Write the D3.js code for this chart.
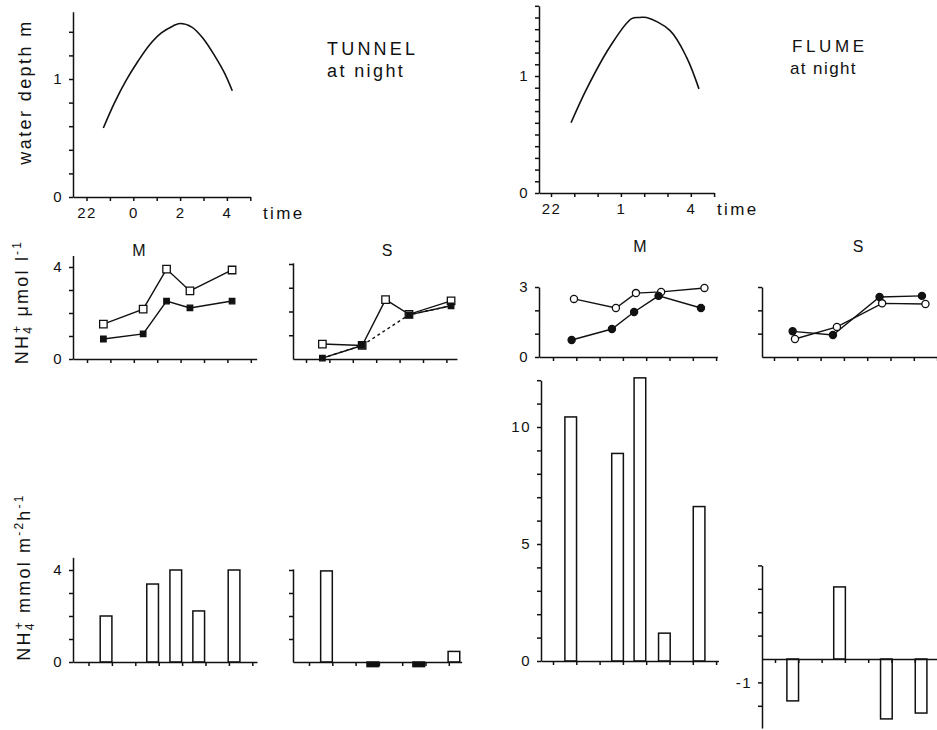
<!DOCTYPE html>
<html>
<head>
<meta charset="utf-8">
<script src="https://cdn.jsdelivr.net/npm/d3@7"></script>
<style>
  body { margin: 0; background: #fff; }
  svg { display: block; }
  text { font-family: "Liberation Sans", Arial, sans-serif; fill: #111; }
</style>
</head>
<body>
<svg id="chart" width="937" height="730"></svg>
<script>
// ---- values (time in hours, 24 = midnight) ----
const tunnelDepthTime = [22.72, 23.2, 23.7, 24.2, 24.7, 25.2, 25.7, 26.0, 26.5, 27.0, 27.5, 27.9, 28.23];
const tunnelDepth     = [0.585, 0.80, 0.99, 1.15, 1.29, 1.39, 1.45, 1.47, 1.44, 1.34, 1.19, 1.05, 0.90];
const flumeDepthTime  = [22.86, 23.53, 24.53, 25.46, 25.82, 26.1, 27.1, 27.82, 28.35];
const flumeDepth      = [0.60, 0.89, 1.25, 1.49, 1.50, 1.50, 1.39, 1.16, 0.89];

// NH4+ concentration, umol l-1
const tunnelSampleTime = [22.7, 24.4, 25.4, 26.4, 28.2];
const tunnelMOpen = [1.52, 2.17, 3.91, 2.96, 3.87];
const tunnelMFill = [0.87, 1.09, 2.52, 2.22, 2.52];
const tunnelSOpen = [0.63, 0.57, 2.5, 1.88, 2.45];
const tunnelSFill = [0.04, 0.57, null, 1.86, 2.24];

const flumeFillTime = [22.8, 24.53, 25.48, 26.53, 28.35];
const flumeOpenTime = [22.9, 24.7, 25.56, 26.64, 28.5];
const flumeMFill = [0.73, 1.2, 1.93, 2.62, 2.1];
const flumeMOpen = [2.49, 2.1, 2.74, 2.79, 2.96];
const flumeSFill = [1.1, 0.94, null, 2.57, 2.62];
const flumeSOpen = [0.77, 1.29, null, 2.3, 2.27];

// NH4+ flux, mmol m-2 h-1
const tunnelFluxTime = [22.75, 24.74, 25.73, 26.71, 28.22];
const tunnelMFlux = [2.0, 3.39, 4.0, 2.22, 4.0];
const tunnelSFlux = [3.96, -0.2, null, -0.2, 0.46];
const flumeFluxTime = [22.76, 24.77, 25.73, 26.78, 28.27];
const flumeMFlux = [10.43, 8.87, 12.1, 1.19, 6.6];
const flumeSFlux = [-1.79, 3.08, null, -2.56, -2.31];

// tick labels
const hourTicks = [22, 23, 24, 25, 26, 27, 28, 29];
const tunnelHourLabelAt = [22, 24, 26, 28];
const tunnelHourLabels = ["22", "0", "2", "4"];
const flumeHourLabelAt = [22, 25, 28];
const flumeHourLabels = ["22", "1", "4"];

const INK = "#111";
const svg = d3.select("#chart");

// builds one small panel: scales + axes, returns scales and group
function panel(c) {
  const g = svg.append("g");
  const tStart = 22 - (c.x22 - c.x0) / c.pxh;
  const x = d3.scaleLinear()
    .domain([tStart, c.tEnd])
    .range([c.x0, c.x22 + (c.tEnd - 22) * c.pxh]);
  const yMin = c.yMin || 0;
  const y = d3.scaleLinear()
    .domain([yMin, c.yMax])
    .range([c.yZero - yMin * c.pxu, c.yZero - c.yMax * c.pxu]);

  const xLab = c.xLabelAt || [];
  const xAxis = d3.axisBottom(x)
    .tickValues(c.xTicks.filter(t => t <= c.tEnd))
    .tickSizeInner(4).tickSizeOuter(0).tickPadding(6)
    .tickFormat(t => { const i = xLab.indexOf(t); return i < 0 ? "" : c.xLabels[i]; });
  const yAxis = d3.axisLeft(y)
    .tickValues(c.yTicks)
    .tickSizeInner(4).tickSizeOuter(0).tickPadding(6)
    .tickFormat(v => (c.yLabels || []).some(l => Math.abs(l - v) < 1e-6) ? String(v) : "");

  c.draw && c.draw(g, x, y);

  [g.append("g").attr("transform", `translate(0,${y(0)})`).call(xAxis),
   g.append("g").attr("transform", `translate(${c.x0},0)`).call(yAxis)]
    .forEach(a => {
      a.attr("font-family", null).attr("font-size", null);
      a.selectAll("path, line").attr("stroke", INK).attr("stroke-width", 1.5);
      a.selectAll("text").attr("fill", INK)
        .style("font-size", "15px").style("letter-spacing", "1.5px");
    });
  return { g, x, y };
}

function depthCurve(times, depths) {
  return (g, x, y) => {
    g.append("path")
      .datum(times.map((t, i) => [t, depths[i]]))
      .attr("fill", "none").attr("stroke", INK).attr("stroke-width", 1.6)
      .attr("d", d3.line().x(d => x(d[0])).y(d => y(d[1])).curve(d3.curveCatmullRom));
  };
}

// series: {time, values, shape: "square"|"circle", filled, gapDash}
function lineSeries(series) {
  return (g, x, y) => {
    const line = d3.line().x(d => x(d[0])).y(d => y(d[1]));
    series.forEach(s => {
      const pts = s.time.map((t, i) => [t, s.values[i]]);
      const known = pts.filter(d => d[1] != null);
      if (s.gapDash) {
        g.append("path").datum(known)
          .attr("fill", "none").attr("stroke", INK).attr("stroke-width", 1.4)
          .attr("stroke-dasharray", "3,3").attr("d", line);
        g.append("path").datum(pts)
          .attr("fill", "none").attr("stroke", INK).attr("stroke-width", 1.4)
          .attr("d", d3.line().x(d => x(d[0])).y(d => y(d[1])).defined(d => d[1] != null));
      } else {
        g.append("path").datum(known)
          .attr("fill", "none").attr("stroke", INK).attr("stroke-width", 1.4)
          .attr("d", line);
      }
    });
    series.forEach(s => {
      const known = s.time.map((t, i) => [t, s.values[i]]).filter(d => d[1] != null);
      const sym = s.shape === "square"
        ? d3.symbol(d3.symbolSquare, s.filled ? 30 : 56)
        : d3.symbol(d3.symbolCircle, 40);
      g.selectAll(null).data(known).join("path")
        .attr("transform", d => `translate(${x(d[0])},${y(d[1])})`)
        .attr("d", sym)
        .attr("fill", s.filled ? INK : "#fff")
        .attr("stroke", INK).attr("stroke-width", 1.3);
    });
  };
}

function bars(times, values, pxh) {
  return (g, x, y) => {
    const data = times.map((t, i) => [t, values[i]]).filter(d => d[1] != null);
    const w = pxh * 0.5;
    g.selectAll(null).data(data).join("rect")
      .attr("x", d => x(d[0]) - w / 2)
      .attr("width", w)
      .attr("y", d => Math.min(y(d[1]), y(0)))
      .attr("height", d => Math.abs(y(d[1]) - y(0)))
      .attr("fill", d => Math.abs(d[1]) < 0.3 ? INK : "#fff")
      .attr("stroke", INK).attr("stroke-width", 1.5);
  };
}

const tenths = n => d3.range(0, n + 1).map(i => +(i / 10).toFixed(1));

// ---- top row: water depth ----
panel({ x0: 73, x22: 86.5, pxh: 23.4, tEnd: 29, yZero: 197, pxu: 118, yMax: 1.57,
  xTicks: hourTicks, xLabelAt: tunnelHourLabelAt, xLabels: tunnelHourLabels,
  yTicks: tenths(14).filter((v, i) => i % 2 === 0), yLabels: [0, 1],
  draw: depthCurve(tunnelDepthTime, tunnelDepth) });
panel({ x0: 539, x22: 551, pxh: 23.3, tEnd: 29, yZero: 193, pxu: 117, yMax: 1.6,
  xTicks: hourTicks, xLabelAt: flumeHourLabelAt, xLabels: flumeHourLabels,
  yTicks: tenths(16), yLabels: [0, 1],
  draw: depthCurve(flumeDepthTime, flumeDepth) });

// ---- middle row: concentration ----
panel({ x0: 73, x22: 87, pxh: 23.4, tEnd: 29.25, yZero: 359, pxu: 23, yMax: 4.5,
  xTicks: hourTicks, yTicks: [0, 1, 2, 3, 4], yLabels: [0, 4],
  draw: lineSeries([
    { time: tunnelSampleTime, values: tunnelMOpen, shape: "square", filled: false },
    { time: tunnelSampleTime, values: tunnelMFill, shape: "square", filled: true }]) });
panel({ x0: 293, x22: 306, pxh: 23.4, tEnd: 28.45, yZero: 359, pxu: 23.75, yMax: 4.05,
  xTicks: hourTicks, yTicks: [1, 2, 3, 4],
  draw: lineSeries([
    { time: tunnelSampleTime, values: tunnelSOpen, shape: "square", filled: false },
    { time: tunnelSampleTime, values: tunnelSFill, shape: "square", filled: true, gapDash: true }]) });
panel({ x0: 539, x22: 553, pxh: 23.3, tEnd: 29.05, yZero: 357, pxu: 23.33, yMax: 3,
  xTicks: hourTicks, yTicks: [0, 1, 2, 3], yLabels: [0, 3],
  draw: lineSeries([
    { time: flumeOpenTime, values: flumeMOpen, shape: "circle", filled: false },
    { time: flumeFillTime, values: flumeMFill, shape: "circle", filled: true }]) });
panel({ x0: 762, x22: 774, pxh: 23.3, tEnd: 29.0, yZero: 357, pxu: 23.33, yMax: 3,
  xTicks: hourTicks, yTicks: [1, 2, 3],
  draw: lineSeries([
    { time: flumeFillTime, values: flumeSFill, shape: "circle", filled: true },
    { time: flumeOpenTime, values: flumeSOpen, shape: "circle", filled: false }]) });

// ---- bottom row: flux ----
panel({ x0: 73, x22: 88.5, pxh: 23.4, tEnd: 29.2, yZero: 662, pxu: 23, yMax: 4.55,
  xTicks: hourTicks, yTicks: [0, 1, 2, 3, 4], yLabels: [0, 4],
  draw: bars(tunnelFluxTime, tunnelMFlux, 23.4) });
panel({ x0: 293, x22: 309, pxh: 23.3, tEnd: 28.55, yZero: 662, pxu: 23, yMax: 4.05,
  xTicks: hourTicks, yTicks: [1, 2, 3, 4],
  draw: bars(tunnelFluxTime, tunnelSFlux, 23.3) });
panel({ x0: 541, x22: 553, pxh: 23.3, tEnd: 29.1, yZero: 661, pxu: 23.4, yMax: 12,
  xTicks: hourTicks, yTicks: d3.range(0, 13), yLabels: [0, 5, 10],
  draw: bars(flumeFluxTime, flumeMFlux, 23.3) });
panel({ x0: 762, x22: 775, pxh: 23.3, tEnd: 29.0, yZero: 659, pxu: 23.4, yMin: -2.95, yMax: 4,
  xTicks: hourTicks, yTicks: [-2, -1, 1, 2, 3, 4], yLabels: [-1],
  draw: bars(flumeFluxTime, flumeSFlux, 23.3) });

// ---- texts ----
function label(x, y, str, size, spacing, anchor) {
  return svg.append("text").attr("x", x).attr("y", y)
    .attr("text-anchor", anchor || "start")
    .style("font-size", size + "px").style("letter-spacing", spacing + "px")
    .text(str);
}
label(327, 55, "TUNNEL", 18, 3.2);
label(327, 77, "at night", 18, 2.4);
label(792, 52, "FLUME", 17, 3.6);
label(790, 74, "at night", 17, 1.4);
label(263, 219, "time", 17, 2.4);
label(717, 215, "time", 17, 2.4);
label(139, 256, "M", 16, 0, "middle");
label(387, 256, "S", 16, 0, "middle");
label(640, 252, "M", 16, 0, "middle");
label(858, 252, "S", 16, 0, "middle");

// rotated axis titles
svg.append("text")
  .attr("transform", "translate(31,92) rotate(-90)")
  .attr("text-anchor", "middle")
  .style("font-size", "18px").style("letter-spacing", "2.4px")
  .text("water depth m");

function nhLabel(tx, ty, parts) {
  const t = svg.append("text")
    .attr("transform", `translate(${tx},${ty}) rotate(-90)`)
    .attr("text-anchor", "middle")
    .style("font-size", "18px").style("letter-spacing", "2.2px");
  parts.forEach(p => {
    const s = t.append("tspan").text(p.s);
    if (p.size) s.style("font-size", p.size + "px");
    if (p.dx) s.attr("dx", p.dx);
    if (p.dy) s.attr("dy", p.dy);
  });
}
nhLabel(28, 302, [
  { s: "NH" },
  { s: "4", size: 12, dy: 4 },
  { s: "+", size: 12, dx: -8, dy: -11 },
  { s: " μmol l", dy: 7 },
  { s: "-1", size: 12, dy: -7 }
]);
nhLabel(30, 577, [
  { s: "NH" },
  { s: "4", size: 12, dy: 4 },
  { s: "+", size: 12, dx: -8, dy: -11 },
  { s: " mmol m", dy: 7 },
  { s: "-2", size: 12, dy: -7 },
  { s: "h", dy: 7 },
  { s: "-1", size: 12, dy: -7 }
]);
</script>
</body>
</html>
